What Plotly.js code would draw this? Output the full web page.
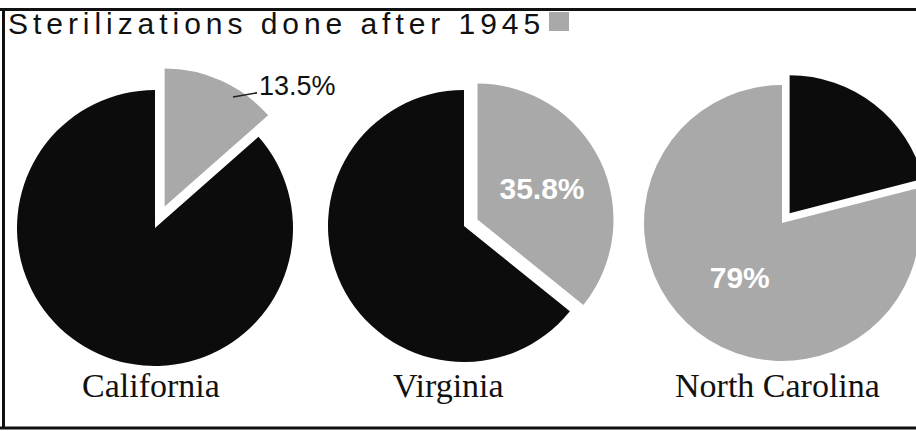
<!DOCTYPE html>
<html>
<head>
<meta charset="utf-8">
<script src="https://cdn.plot.ly/plotly-3.0.1.min.js"></script>
<style>
  html, body { margin: 0; padding: 0; background: #fff; overflow: hidden; width: 916px; height: 431px; }
  #chart { position: absolute; left: -30px; top: 0; width: 990px; height: 431px; }
  #chart .gtitle { letter-spacing: 4.95px; }
</style>
</head>
<body>
<div id="chart"></div>
<script>
// ---- data ----
const states = ['California', 'Virginia', 'North Carolina'];
const afterPct = [13.5, 35.8, 79];       // sterilizations done after 1945
const beforePct = [86.5, 64.2, 21];      // sterilizations done before 1945
const titleText = 'Sterilizations done after 1945';

// ---- layout helpers (page pixels -> paper) ----
const OFF = -30, W = 990, H = 431;
const px2x = X => (X - OFF) / W;
const py2y = Y => 1 - Y / H;

const GRAY = '#a9a9a9';
const BLACK = '#0c0c0c';

// pie geometry in page pixels: centre, radius, pulled slice amount, and whether
// the "after" slice is drawn first (clockwise from 12 o'clock)
const geo = [
  {cx: 155, cy: 228, r: 138, pull: 0.17, afterFirst: true},
  {cx: 464, cy: 226, r: 136, pull: 0.11, afterFirst: true},
  {cx: 782, cy: 223, r: 138, pull: 0.09, afterFirst: false}
];
const insideText = [false, true, true];

const traces = states.map((s, i) => {
  const g = geo[i];
  const half = g.r * (1 + g.pull);
  let labels = ['after 1945', 'before 1945'];
  let values = [afterPct[i], beforePct[i]];
  let colors = [GRAY, BLACK];
  let text = [afterPct[i] + '%', ''];
  let tpos = [insideText[i] ? 'inside' : 'none', 'none'];
  if (!g.afterFirst) {
    labels = labels.slice().reverse();
    values = values.slice().reverse();
    colors = colors.slice().reverse();
    text = text.slice().reverse();
    tpos = tpos.slice().reverse();
  }
  const pull = [g.pull, 0];
  const cxp = px2x(g.cx);
  const hw = Math.min(cxp, 1 - cxp);
  return {
    type: 'pie',
    name: s,
    labels: labels,
    values: values,
    sort: false,
    direction: 'clockwise',
    rotation: 0,
    pull: pull,
    marker: {colors: colors, line: {width: 0}},
    text: text,
    textinfo: 'text',
    textposition: tpos,
    insidetextorientation: 'horizontal',
    insidetextfont: {family: 'Liberation Sans, Arial, sans-serif', size: 30, color: '#ffffff', weight: 'bold'},
    hoverinfo: 'skip',
    showlegend: false,
    domain: {
      x: [cxp - hw, cxp + hw],
      y: [py2y(g.cy + half), py2y(g.cy - half)]
    }
  };
});

const labelY = 385;
const labelX = [151, 448, 777];

const annotations = states.map((s, i) => ({
  text: s,
  x: px2x(labelX[i]), y: py2y(labelY),
  xref: 'paper', yref: 'paper',
  xanchor: 'center', yanchor: 'middle',
  showarrow: false,
  font: {family: 'Liberation Serif, Times New Roman, serif', size: 34, color: '#111'}
}));
// outside label for California's small slice
annotations.push({
  text: afterPct[0] + '%',
  x: px2x(233), y: py2y(97),
  xref: 'paper', yref: 'paper',
  ax: 64, ay: -11,
  showarrow: true, arrowhead: 0, arrowwidth: 1.6, arrowcolor: '#222', standoff: 0,
  font: {family: 'Liberation Sans, Arial, sans-serif', size: 27, color: '#111'}
});

const shapes = [
  // frame
  {type: 'line', xref: 'paper', yref: 'paper', x0: px2x(0), x1: px2x(916), y0: py2y(9.5), y1: py2y(9.5), line: {color: '#111', width: 3}},
  {type: 'line', xref: 'paper', yref: 'paper', x0: px2x(0), x1: px2x(916), y0: py2y(428), y1: py2y(428), line: {color: '#111', width: 3}},
  {type: 'line', xref: 'paper', yref: 'paper', x0: px2x(3.5), x1: px2x(3.5), y0: py2y(9), y1: py2y(429), line: {color: '#111', width: 3}},
  // legend swatch after the title
  {type: 'rect', xref: 'paper', yref: 'paper', x0: px2x(549), x1: px2x(569), y0: py2y(31), y1: py2y(12), fillcolor: GRAY, line: {width: 0}}
];

const layout = {
  width: W, height: H,
  margin: {l: 0, r: 0, t: 0, b: 0},
  paper_bgcolor: '#ffffff',
  plot_bgcolor: '#ffffff',
  title: {
    text: titleText,
    x: px2x(8), xanchor: 'left', xref: 'paper',
    y: py2y(23), yanchor: 'middle', yref: 'paper',
    font: {family: 'Liberation Sans, Arial, sans-serif', size: 30, color: '#111'}
  },
  annotations: annotations,
  shapes: shapes,
  showlegend: false
};

Plotly.newPlot('chart', traces, layout, {displayModeBar: false, staticPlot: true});
</script>
</body>
</html>
